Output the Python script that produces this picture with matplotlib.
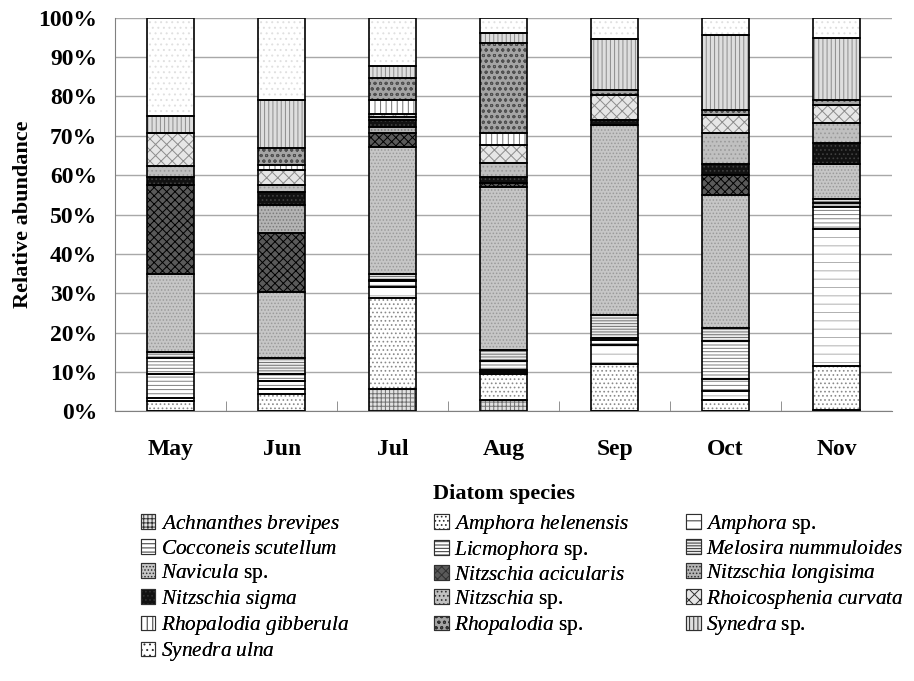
import numpy as np
import matplotlib.pyplot as plt
from matplotlib.patches import Patch

plt.rcParams['font.family'] = ['Liberation Serif', 'DejaVu Serif']
plt.rcParams['mathtext.fontset'] = 'custom'
plt.rcParams['mathtext.it'] = 'Liberation Serif:italic'
plt.rcParams['mathtext.rm'] = 'Liberation Serif'
plt.rcParams['hatch.linewidth'] = 0.7

months = ['May', 'Jun', 'Jul', 'Aug', 'Sep', 'Oct', 'Nov']

species = [
    r'$\mathit{Achnanthes\ brevipes}$',
    r'$\mathit{Amphora\ helenensis}$',
    r'$\mathit{Amphora}$ sp.',
    r'$\mathit{Cocconeis\ scutellum}$',
    r'$\mathit{Licmophora}$ sp.',
    r'$\mathit{Melosira\ nummuloides}$',
    r'$\mathit{Navicula}$ sp.',
    r'$\mathit{Nitzschia\ acicularis}$',
    r'$\mathit{Nitzschia\ longisima}$',
    r'$\mathit{Nitzschia\ sigma}$',
    r'$\mathit{Nitzschia}$ sp.',
    r'$\mathit{Rhoicosphenia\ curvata}$',
    r'$\mathit{Rhopalodia\ gibberula}$',
    r'$\mathit{Rhopalodia}$ sp.',
    r'$\mathit{Synedra}$ sp.',
    r'$\mathit{Synedra\ ulna}$',
]

# relative abundance (%) per month, same order as species
may = [0, 2.5, 0.9, 6.1, 4.1, 1.5, 19.8, 22.5, 0, 2.2, 2.7, 8.3, 0, 0, 4.5, 24.9]
jun = [0, 4.3, 1.4, 2.0, 1.8, 4.1, 16.8, 14.9, 7.0, 3.4, 1.7, 3.9, 1.3, 4.2, 12.2, 21.0]
jul = [5.7, 23.2, 2.6, 1.5, 0.4, 1.5, 32.3, 3.4, 1.7, 1.7, 0.7, 0.9, 3.4, 5.7, 3.0, 12.3]
aug = [3.0, 6.4, 0.6, 0.6, 2.2, 2.9, 41.3, 0.9, 0, 1.7, 3.4, 4.7, 2.9, 23.0, 2.6, 3.8]
sep = [0, 11.9, 4.9, 1.2, 0.7, 5.8, 48.3, 0, 0, 1.2, 0, 6.4, 0, 1.3, 12.9, 5.4]
oct_ = [0, 3.0, 2.1, 3.0, 9.8, 3.2, 33.8, 5.1, 0, 2.8, 7.8, 4.7, 0, 1.3, 18.9, 4.5]
nov = [0.4, 11.1, 34.9, 5.5, 1.0, 1.1, 8.8, 0, 0, 5.3, 5.1, 4.7, 0, 1.1, 15.9, 5.1]

data = np.array([may, jun, jul, aug, sep, oct_, nov]).T  # species x months

# grayscale fill, hatch pattern and hatch colour per species
faces = ['#e2e2e2', '#ffffff', '#ffffff', '#ffffff', '#ffffff', '#ececec',
         '#c6c6c6', '#5a5a5a', '#b4b4b4', '#111111', '#c0c0c0', '#e6e6e6',
         '#ffffff', '#a4a4a4', '#dedede', '#ffffff']
hatches = ['++++', '....', '--', '----', '-----', '------',
           '.....', 'xxxx', '.....', '....', '....', 'xxx',
           '|||', 'ooo', '||||', '...']
hcols = ['#707070', '#8a8a8a', '#b0b0b0', '#808080', '#7a7a7a', '#707070',
         '#9a9a9a', '#000000', '#7a7a7a', '#404040', '#9a9a9a', '#8c8c8c',
         '#707070', '#505050', '#8c8c8c', '#e0e0e0']

fig = plt.figure(figsize=(9.14, 6.81), dpi=100)
ax = fig.add_axes([0.126, 0.396, 0.85, 0.578])

x = np.arange(len(months))
bottom = np.zeros(len(months))
for i in range(len(species)):
    # fill + hatch (hatch takes the edge colour), then black outline on top
    ax.bar(x, data[i], 0.42, bottom=bottom, color=faces[i], hatch=hatches[i],
           edgecolor=hcols[i], linewidth=0, zorder=3)
    ax.bar(x, data[i], 0.42, bottom=bottom, fill=False,
           edgecolor='black', linewidth=1.2, zorder=4)
    bottom += data[i]

ax.set_xlim(-0.5, len(months) - 0.5)
ax.set_ylim(0, 100)
ax.set_yticks(np.arange(0, 101, 10))
ax.set_yticklabels([f'{v}%' for v in range(0, 101, 10)], fontsize=17, fontweight='bold')
ax.yaxis.grid(True, color='#a8a8a8', linewidth=1.0, zorder=0)
ax.tick_params(axis='y', length=0, pad=13)

ax.set_xticks(x)
ax.set_xticklabels(months, fontsize=17, fontweight='bold')
ax.set_xticks(np.arange(0.5, len(months) - 0.5, 1), minor=True)
ax.tick_params(axis='x', which='major', length=0, pad=20)
ax.tick_params(axis='x', which='minor', length=7, direction='in', color='#808080')

for s in ['top', 'right']:
    ax.spines[s].set_visible(False)
for s in ['left', 'bottom']:
    ax.spines[s].set_color('#808080')

ax.set_xlabel('Diatom species', fontsize=16, fontweight='bold', labelpad=17)
ax.set_ylabel('Relative abundance', fontsize=16, fontweight='bold', labelpad=4)

# legend: three columns, filled row by row
proxies = [Patch(facecolor=faces[i], hatch=hatches[i], edgecolor='#303030',
                 linewidth=0.8) for i in range(len(species))]
col_x = [0.154, 0.475, 0.751]
for c in range(3):
    idx = list(range(c, len(species), 3))
    leg = fig.legend([proxies[k] for k in idx], [species[k] for k in idx],
                     loc='upper left', bbox_to_anchor=(col_x[c], 0.247),
                     frameon=False, fontsize=15.3, handlelength=0.68,
                     handleheight=0.68, handletextpad=0.25, labelspacing=0.15,
                     borderpad=0, borderaxespad=0)
    fig.add_artist(leg)

fig.savefig('out.png', dpi=100)
